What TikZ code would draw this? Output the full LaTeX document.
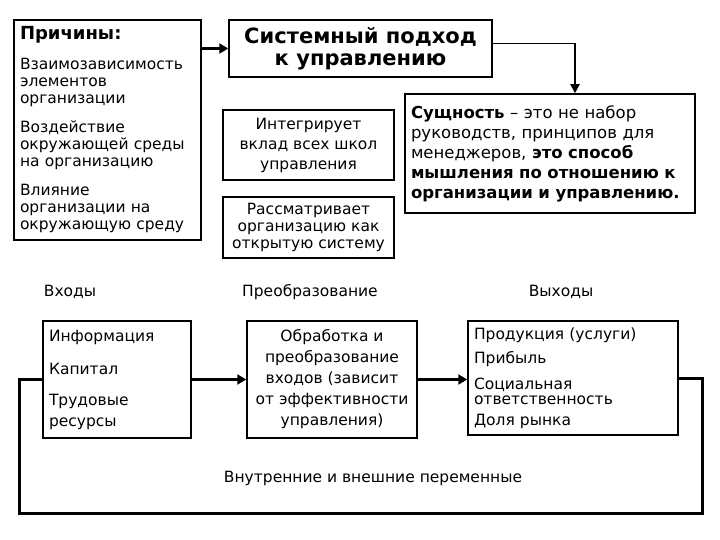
\documentclass[tikz,border=0pt]{standalone}
\usepackage{fontspec}
\setmainfont{DejaVu Sans}
\usetikzlibrary{arrows.meta}

\begin{document}
\begin{tikzpicture}[x = 1pt, y = -1pt]
    \tikzstyle{every node} = [font = \fontsize{15.5}{17}\selectfont, inner sep = 0pt];
    \tikzstyle{box} = [draw, line width = 1.5pt, inner sep = 6pt];
    \tikzstyle{thickarrow} = [line width = 3pt, -{Triangle[length = 9pt, width = 10pt]}];
    \tikzstyle{thinarrow} = [line width = 1.8pt, -{Triangle[length = 9pt, width = 9pt]}];
    \useasboundingbox (0,0) rectangle (720,540);
    % top part:
    \node[box, minimum width = 187pt, minimum height = 220pt, text width = 175pt, align = left]
        (causes) at (107.5,130) {{\fontsize{18}{18}\selectfont\bfseries Причины:}\\[13pt]
        Взаимозависимость\\ элементов\\ организации\\[12pt]
        Воздействие\\ окружающей среды\\ на организацию\\[12pt]
        Влияние\\ организации на\\ окружающую среду};
    \node[box, minimum width = 263pt, minimum height = 57pt, align = center,
        font = \fontsize{21}{22}\selectfont\bfseries]
        (approach) at (360.5,48.5) {Системный подход\\ к управлению};
    \node[box, minimum width = 171pt, minimum height = 70pt, align = center,
        font = \fontsize{15.5}{20}\selectfont]
        (integrates) at (308.5,145) {Интегрирует\\ вклад всех школ\\ управления};
    \node[box, minimum width = 171pt, minimum height = 61pt, align = center]
        (considers) at (308.5,227.5) {Рассматривает\\ организацию как\\ открытую систему};
    \node[box, minimum width = 290pt, minimum height = 119pt, text width = 278pt, align = left,
        font = \fontsize{16.5}{20}\selectfont]
        (essence) at (550,153.5) {\textbf{Сущность} -- это не набор\\ руководств, принципов для\\
        менеджеров, \textbf{это способ}\\ \textbf{мышления по отношению к}\\
        \textbf{организации и управлению.}};
    % system:
    \node (inlabel) at (70,292) {Входы};
    \node (proclabel) at (310,292) {Преобразование};
    \node (outlabel) at (561,292) {Выходы};
    \node[box, minimum width = 148pt, minimum height = 117pt, text width = 136pt, align = left]
        (inputs) at (117,379.5) {Информация\\[16pt] Капитал\\[14pt] Трудовые\\[4pt] ресурсы};
    \node[box, minimum width = 170pt, minimum height = 117pt, align = center,
        font = \fontsize{15.5}{21}\selectfont]
        (process) at (332,379.5) {Обработка и\\ преобразование\\ входов (зависит\\
        от эффективности\\ управления)};
    \node[box, minimum width = 210pt, minimum height = 114pt, text width = 198pt, align = left]
        (outputs) at (573,378) {Продукция (услуги)\\[7pt] Прибыль\\[9pt] Социальная\\[-2pt]
        ответственность\\[4pt] Доля рынка};
    \node (variables) at (373,478) {Внутренние и внешние переменные};
    \coordinate (loopR) at (702,513);
    \coordinate (loopL) at (19,513);
    % lines:
    \draw[thickarrow] (causes.east |- approach.west) -- (approach.west);
    \draw[thinarrow] ([yshift = 5pt]approach.east) -| ([xshift = 25pt]essence.north);
    \draw[thickarrow] (inputs.east) -- (process.west);
    \draw[thickarrow] (process.east) -- (process.east -| outputs.west);
    \draw[line width = 3pt] (outputs.east) -| (loopR) -- (loopL) |- (inputs.west);
\end{tikzpicture}
\end{document}
